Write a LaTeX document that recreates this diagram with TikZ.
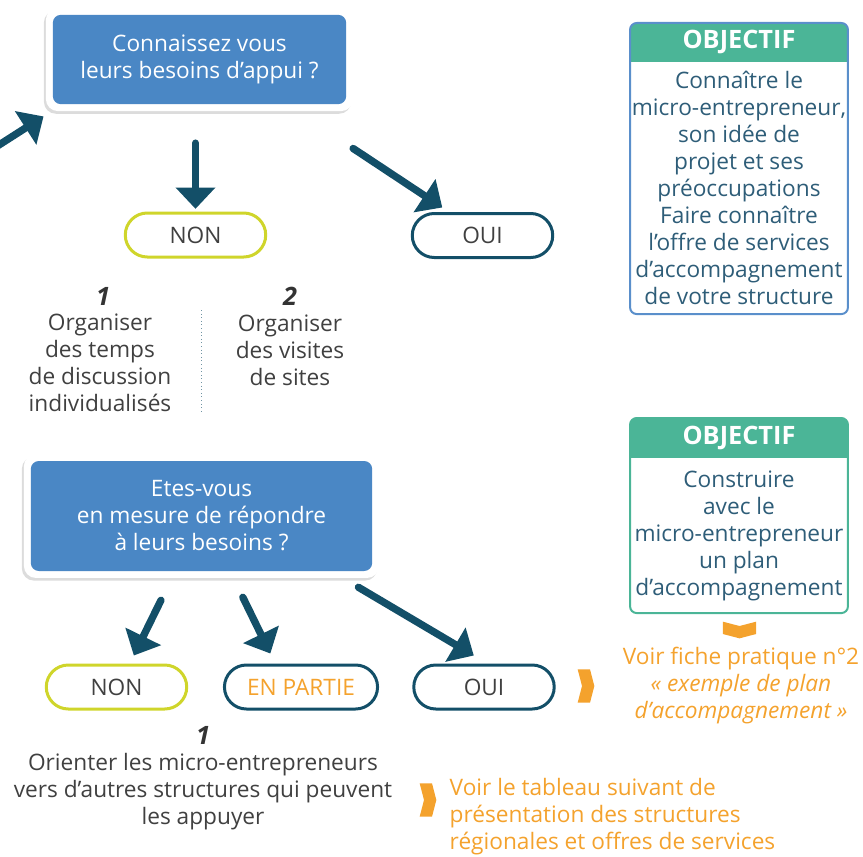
\documentclass[tikz,border=0pt]{standalone}
\usepackage{fontspec}
\setmainfont{Open Sans}
\usetikzlibrary{arrows.meta}
\usetikzlibrary{positioning}
\usetikzlibrary{calc}
\usetikzlibrary{fit}
\usetikzlibrary{backgrounds}
\usetikzlibrary{shadows}
\usetikzlibrary{shapes.misc}
\definecolor{qblue}{HTML}{4A87C5}
\definecolor{flowteal}{HTML}{134F68}
\definecolor{nonyel}{HTML}{CFD52B}
\definecolor{objgreen}{HTML}{4BB597}
\definecolor{objblue}{HTML}{5A8FCB}
\definecolor{objtext}{HTML}{2E5D78}
\definecolor{orng}{HTML}{F4A22D}
\definecolor{txtgray}{HTML}{404040}
\definecolor{numgray}{HTML}{333333}
\tikzset{chevron/.pic={
  \fill[orng] (-6.25pt,12.5pt) -- (3pt,12.5pt) -- (6.25pt,0pt) -- (3pt,-12.5pt)
    -- (-6.25pt,-12.5pt) -- (-3pt,0pt) -- cycle;}}

\begin{document}
\begin{tikzpicture}[x=0.75pt,y=-0.75pt,font=\fontsize{17}{20.25}\selectfont,
    question/.style={rectangle,rounded corners=6pt,fill=qblue,text=white,align=center},
    frame/.style={rectangle,rounded corners=9pt,fill=white,inner sep=5pt,
      drop shadow={opacity=.28,shadow xshift=-1.5pt,shadow yshift=-2pt}},
    answer/.style={rounded rectangle,draw,line width=2.25pt,minimum width=112pt,
      minimum height=33pt,text=txtgray},
    flow/.style={draw=flowteal,line width=5.5pt,line cap=round,
      -{Triangle[width=29pt,length=16pt]}},
    objhead/.style={rectangle,rounded corners=5pt,fill=objgreen,text=white,
      font=\fontsize{19}{22}\selectfont\bfseries,minimum width=163pt,
      minimum height=28.5pt,anchor=north},
    objbody/.style={rectangle,text=objtext,align=center,inner xsep=0pt,
      minimum width=163pt,anchor=north},
    num/.style={font=\fontsize{19}{22}\selectfont\bfseries\itshape,text=numgray},
    note/.style={text=txtgray,align=center},
    voir/.style={text=orng},
    divider/.style={draw=flowteal!60,dotted,line width=0.7pt}]
  \useasboundingbox (0,0) rectangle (863,856);

  % first question
  \node[question,minimum width=220pt,minimum height=67pt] (q1) at (199.5,59.5)
    {Connaissez vous\\leurs besoins d’appui ?};
  \begin{scope}[on background layer]
    \node[frame,fit=(q1)] (q1frame) {};
  \end{scope}
  \node[answer,draw=nonyel] (non1) at (195.5,235) {NON};
  \node[answer,draw=flowteal] (oui1) at (482.5,235.5) {OUI};
  \coordinate (entry) at (-12,152);
  \draw[flow] (entry) -- ([xshift=-6.75pt,yshift=-9pt]q1.south west);
  \draw[flow] ($(q1.south -| non1.north)+(0,-29pt)$) -- ([yshift=2pt]non1.north);
  \draw[flow] ([xshift=5pt,yshift=-33pt]q1.south east) -- ([xshift=6pt,yshift=3.4pt]oui1.north west);

  % actions if NON
  \node[num] (n1) at (103,296) {1};
  \node[note] (t1) at (100,363) {Organiser\\des temps\\de discussion\\individualisés};
  \node[num] (n2) at (290,296) {2};
  \node[note] (t2) at (290,350) {Organiser\\des visites\\de sites};
  \draw[divider] (201,310) -- (201,413);

  % objectives
  \node[objhead] (hd1) at (739,23) {OBJECTIF};
  \node[objbody,minimum height=189pt] (obj1) at (hd1.south)
    {Connaître le\\micro-entrepreneur,\\son idée de\\projet et ses\\préoccupations\\Faire connaître\\l’offre de services\\d’accompagnement\\de votre structure};
  \draw[objblue,line width=1.5pt,rounded corners=5pt] (hd1.north west) rectangle (obj1.south east);

  \node[objhead,minimum height=29.5pt] (hd2) at (739,418) {OBJECTIF};
  \node[objbody,minimum height=116pt] (obj2) at (hd2.south)
    {Construire\\avec le\\micro-entrepreneur\\un plan\\d’accompagnement};
  \draw[objgreen,line width=1.5pt,rounded corners=5pt] (hd2.north west) rectangle (obj2.south east);
  \begin{scope}[on background layer]
    \fill[objgreen] (hd1.west) rectangle (hd1.south east);
    \fill[objgreen] (hd2.west) rectangle (hd2.south east);
  \end{scope}

  % second question
  \node[question,minimum width=256pt,minimum height=82.5pt] (q2) at (201.5,516)
    {Etes-vous\\en mesure de répondre\\à leurs besoins ?};
  \begin{scope}[on background layer]
    \node[frame,fit=(q2)] (q2frame) {};
  \end{scope}
  \node[answer,draw=nonyel] (non2) at (116.5,687) {NON};
  \node[answer,draw=flowteal,minimum width=121.5pt,text=orng] (part) at (301,687) {EN PARTIE};
  \node[answer,draw=flowteal] (oui2) at (484,687) {OUI};
  \draw[flow] ([xshift=-30.4pt,yshift=-21.75pt]q2.south) -- ([xshift=13pt,yshift=6pt]non2.north);
  \draw[flow] ([xshift=31pt,yshift=-19.5pt]q2.south) -- ([xshift=-23pt,yshift=7.5pt]part.north);
  \draw[flow] ([xshift=-10.5pt,yshift=-12pt]q2.south east) -- ([xshift=28.5pt,yshift=6pt]oui2.north west);

  % links to other sheets
  \pic[rotate=-90] at (739.5,630) {chevron};
  \node[voir,align=center] (fiche) at (741,686)
    {Voir fiche pratique n°2\\\textit{«~exemple de plan}\\\textit{d’accompagnement~»}};
  \pic at (586,686) {chevron};

  \node[num] (n3) at (203,735) {1};
  \node[note] (t3) at (203,792)
    {Orienter les micro-entrepreneurs\\vers d’autres structures qui peuvent\\les appuyer};
  \pic at (428,800) {chevron};
  \node[voir,align=left,anchor=west] (tableau) at (445,817)
    {Voir le tableau suivant de\\présentation des structures\\régionales et offres de services};
\end{tikzpicture}
\end{document}
